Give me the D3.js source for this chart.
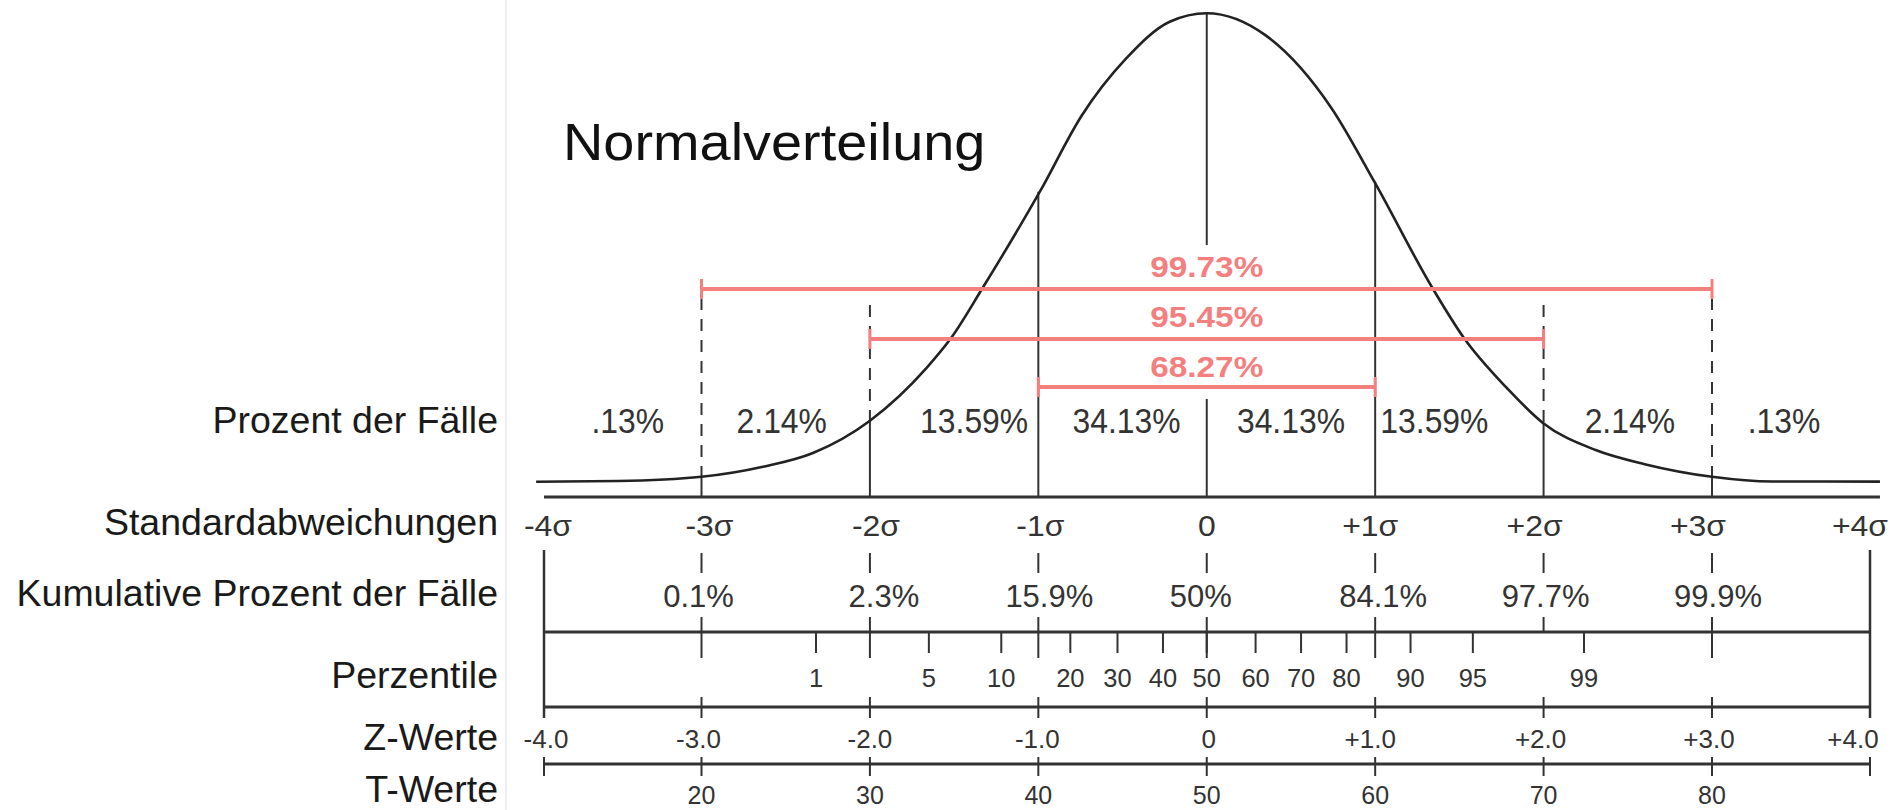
<!DOCTYPE html>
<html><head><meta charset="utf-8">
<script src="https://cdn.jsdelivr.net/npm/d3@7"></script>
<style>html,body{margin:0;padding:0;background:#fff;} svg{display:block;font-family:"Liberation Sans",Arial,Helvetica,sans-serif;}</style>
</head><body><svg id="chart" width="1896" height="810"></svg>
<script>
// ---------------- data ----------------
const title = "Normalverteilung";
const rowTitles = ["Prozent der Fälle","Standardabweichungen","Kumulative Prozent der Fälle","Perzentile","Z-Werte","T-Werte"];
const sigmaSteps = [-4,-3,-2,-1,0,1,2,3,4];
const sigmaLabels = ["-4σ","-3σ","-2σ","-1σ","0","+1σ","+2σ","+3σ","+4σ"];
const caseShares = [".13%","2.14%","13.59%","34.13%","34.13%","13.59%","2.14%",".13%"];
const innerSteps = [-3,-2,-1,0,1,2,3];
const cumulativeLabels = ["0.1%","2.3%","15.9%","50%","84.1%","97.7%","99.9%"];
const percentiles = [1,5,10,20,30,40,50,60,70,80,90,95,99];
const percentileZ = [-2.32,-1.65,-1.22,-0.81,-0.53,-0.26,0,0.29,0.56,0.83,1.21,1.58,2.24];
const zLabels = ["-4.0","-3.0","-2.0","-1.0","0","+1.0","+2.0","+3.0","+4.0"];
const tLabels = ["20","30","40","50","60","70","80"];
const intervalLabels = ["99.73%","95.45%","68.27%"];
const intervalHalfWidth = [3,2,1];
// curve (z, relative density)
const curveZ = [-4.05,-3.53,-3.0,-2.635,-2.338,-2.0,-1.662,-1.516,-1.332,-0.991,-0.742,-0.481,-0.22,0,0.35,0.742,0.995,1.341,1.525,1.786,1.994,2.309,2.6,3.0,3.38,4.063];
const curveDensity = [0.0011,0.0017,0.0053,0.0138,0.0255,0.0529,0.098,0.1235,0.1653,0.2473,0.312,0.360,0.3916,0.3988,0.3800,0.318,0.2558,0.1653,0.1235,0.080,0.0512,0.028,0.016,0.0053,0.0013,0.0012];
// curve height where the sigma lines meet it (-3..+3)
const sigmaDensity = [0.0053,0.0529,0.2473,0.3988,0.2558,0.0512,0.0053];
// percentile major ticks that continue below the line
const pctMajorBelow = [-3,-2,-1,0,1,3];

// ---------------- layout ----------------
const W = 1896, H = 810;
const Y = {title:160, intervalText:[277,327,377], intervalBar:[289,339,387], caseText:433,
  axis:497, sigmaText:536, cumDashTop:553, cumDashBot:573, cumText:607, pctTickTop:617,
  pctLine:632, pctMinor:653, pctMajorBot:658, pctText:687, zLine:707, zTickTop:697, zTickBot:718,
  zText:748, tLine:764, tTickTop:757, tTickBot:776, tText:804, boxTop:550};
const rowY = [433,535,606,688,750,802];
const caseNudge = [5,-4,20,4,0,-25,2,-7];
const sigmaNudge = [4,8,6,2,0,-5,-9,-14,-10];
const cumNudge = [-3,14,11,-6,8,2,6];
const zNudge = [2,-3,0,-1,2,-5,-3,-3,-17];

const svg = d3.select('#chart');
const x = d3.scaleLinear().domain([-4,-3,3,4]).range([544,701.5,1712,1870]);
const y = d3.scaleLinear().domain([0,0.399]).range([483,13]);
const INK = '#333', TXT = '#333', RED = '#f47f7f';

function txt(parent, px, py, s, o) {
  o = o || {};
  return parent.append('text')
    .attr('transform', `translate(${px},${py}) scale(${o.sx||1},1)`)
    .attr('text-anchor', o.anchor || 'middle')
    .attr('font-size', o.size || 30)
    .attr('font-weight', o.weight || 'normal')
    .attr('fill', o.fill || TXT)
    .text(s);
}
function ln(x1,y1,x2,y2,o) {
  o = o || {};
  const l = svg.append('line').attr('x1',x1).attr('y1',y1).attr('x2',x2).attr('y2',y2)
    .attr('stroke', o.stroke || INK).attr('stroke-width', o.w || 2);
  if (o.dash) l.attr('stroke-dasharray', o.dash);
  return l;
}

// faint panel border
ln(506,0,506,H,{stroke:'#efefef',w:2});

// title
txt(svg, 563, Y.title, title, {size:52, sx:1.075, anchor:'start', fill:'#111'});

// row titles
rowTitles.forEach((t,i)=>txt(svg, 498, rowY[i], t, {size:37.5, anchor:'end', fill:'#1a1a1a'}));

// vertical sigma lines
innerSteps.forEach((z,i)=>{
  const top = y(sigmaDensity[i]);
  if (Math.abs(z) >= 2) {
    ln(x(z), Math.abs(z)===3 ? 298 : 305, x(z), top, {dash:'12,9'});
  }
  if (z === 0) {
    ln(x(z), top, x(z), 245);
    ln(x(z), 399, x(z), Y.axis);
  } else {
    ln(x(z), top, x(z), Y.axis);
  }
});

// curve
const pts = curveZ.map((z,i)=>[z, curveDensity[i]]);
svg.append('path').datum(pts)
  .attr('d', d3.line().x(d=>x(d[0])).y(d=>y(d[1])).curve(d3.curveMonotoneX))
  .attr('fill','none').attr('stroke','#222').attr('stroke-width',2.6);

// main axis
ln(x(-4), Y.axis, x(4.063), Y.axis, {w:3});

// interval bars
intervalLabels.forEach((lab,i)=>{
  const k = intervalHalfWidth[i], yb = Y.intervalBar[i];
  ln(x(-k), yb, x(k), yb, {stroke:RED, w:4});
  ln(x(-k), yb-10, x(-k), yb+10, {stroke:RED, w:3});
  ln(x(k), yb-10, x(k), yb+10, {stroke:RED, w:3});
  txt(svg, x(0), Y.intervalText[i], lab, {size:29, weight:'bold', sx:1.15, fill:RED});
});

// case shares
caseShares.forEach((s,i)=>{
  const cx = (x(sigmaSteps[i]) + x(sigmaSteps[i+1]))/2 + caseNudge[i];
  txt(svg, cx, Y.caseText, s, {size:35, sx:0.91});
});

// sigma labels
sigmaLabels.forEach((s,i)=>txt(svg, x(sigmaSteps[i]) + sigmaNudge[i], Y.sigmaText, s, {size:29, sx:1.1}));

// cumulative row
innerSteps.forEach((z,i)=>{
  ln(x(z), Y.cumDashTop, x(z), Y.cumDashBot);
  ln(x(z), Y.pctTickTop, x(z), pctMajorBelow.includes(z) ? Y.pctMajorBot : Y.pctLine);
  txt(svg, x(z) + cumNudge[i], Y.cumText, cumulativeLabels[i], {size:31});
});

// box sides
ln(x(-4), Y.boxTop, x(-4), Y.zTickBot, {w:2.5});
ln(x(4), Y.boxTop, x(4), Y.zTickBot, {w:2.5});

// percentile line
ln(x(-4), Y.pctLine, x(4), Y.pctLine, {w:3});
percentiles.forEach((p,i)=>{
  ln(x(percentileZ[i]), Y.pctLine, x(percentileZ[i]), Y.pctMinor);
  txt(svg, x(percentileZ[i]), Y.pctText, String(p), {size:25.5});
});

// Z line
ln(x(-4), Y.zLine, x(4), Y.zLine, {w:3});
innerSteps.forEach(z=>ln(x(z), Y.zTickTop, x(z), Y.zTickBot));
zLabels.forEach((s,i)=>txt(svg, x(sigmaSteps[i]) + zNudge[i], Y.zText, s, {size:26}));

// T line
ln(x(-4), Y.tLine, x(4), Y.tLine, {w:3});
sigmaSteps.forEach(z=>ln(x(z), Y.tTickTop, x(z), Y.tTickBot));
tLabels.forEach((s,i)=>txt(svg, x(innerSteps[i]), Y.tText, s, {size:25}));
</script>
</body></html>
